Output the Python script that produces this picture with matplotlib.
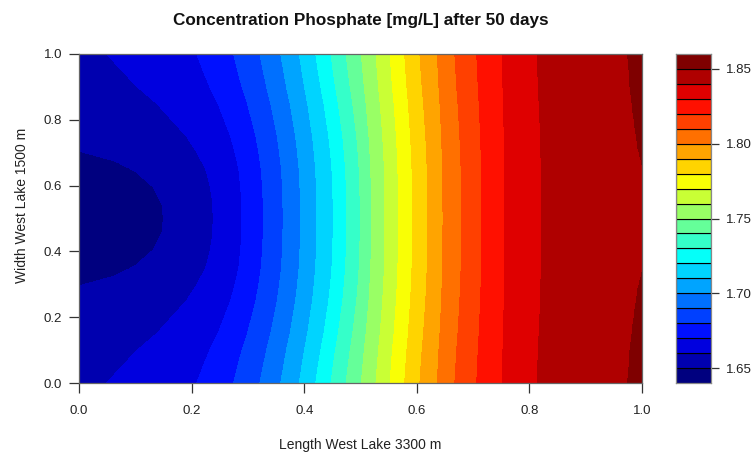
import numpy as np
import matplotlib
matplotlib.use("Agg")
import matplotlib.pyplot as plt
from matplotlib.colors import LinearSegmentedColormap

plt.rcParams["font.family"] = ["Liberation Sans", "DejaVu Sans"]

# Band edges of the phosphate concentration [mg/L]
levels = np.round(np.arange(1.64, 1.8601, 0.01), 2)
key_ticks = [1.65, 1.70, 1.75, 1.80, 1.85]
axis_ticks = [0.0, 0.2, 0.4, 0.6, 0.8, 1.0]

# Boundaries 1.66 ... 1.84: x position (fraction of lake length)
# along the centre line (y = 0.5) and along the shores (y = 0 / 1)
band_levels = [1.66, 1.67, 1.68, 1.69, 1.70, 1.71, 1.72, 1.73, 1.74, 1.75,
               1.76, 1.77, 1.78, 1.79, 1.80, 1.81, 1.82, 1.83, 1.84]
x_centre = [0.239, 0.290, 0.328, 0.363, 0.394, 0.423, 0.452, 0.476, 0.500, 0.520,
            0.544, 0.568, 0.593, 0.620, 0.647, 0.680, 0.716, 0.757, 0.822]
x_shore = [0.050, 0.210, 0.275, 0.322, 0.359, 0.392, 0.421, 0.448, 0.475, 0.502,
           0.528, 0.553, 0.579, 0.606, 0.637, 0.668, 0.707, 0.752, 0.814]

# Share of the shore-to-centre shift reached at each width position (upper half)
bend_y = [0.50, 0.55, 0.60, 0.65, 0.70, 0.75, 0.80, 0.85, 0.90, 0.95, 1.00]
bend_frac = [1.00, 0.995, 0.97, 0.93, 0.85, 0.75, 0.61, 0.47, 0.29, 0.14, 0.00]

# Inner 1.65 boundary near the inlet (upper half, mirrored below)
core_y = [0.500, 0.544, 0.595, 0.645, 0.676, 0.706]
core_x = [0.151, 0.148, 0.133, 0.100, 0.064, 0.000]

# 1.85 boundary at the outlet end (upper half, mirrored below)
rim_y = [0.666, 0.716, 0.800, 0.900, 1.000]
rim_x = [1.000, 0.993, 0.986, 0.979, 0.975]

# Jet-style palette used for the bands
palette = ["#00007F", "#0000FF", "#007FFF", "#00FFFF", "#7FFF7F",
           "#FFFF00", "#FF7F00", "#FF0000", "#7F0000"]

# ---- build the concentration grid from the boundary positions ----
xs = np.linspace(0, 1, 900)
ys = np.linspace(0, 1, 600)
bl = np.array(band_levels)
xc = np.array(x_centre)
xsh = np.array(x_shore)
Z = np.empty((ys.size, xs.size))
for j, y in enumerate(ys):
    d = abs(y - 0.5) + 0.5
    s = np.interp(d, bend_y, bend_frac)
    xb = xsh + (xc - xsh) * s
    x_in = np.interp(d, core_y, core_x) if d <= core_y[-1] else -0.05
    x_out = np.interp(d, rim_y, rim_x) if d >= rim_y[0] else 1.05
    px = np.concatenate([[-1.0, x_in], xb, [x_out, 2.0]])
    pz = np.concatenate([[levels[0], 1.65], bl, [1.85, levels[-1]]])
    Z[j] = np.interp(xs, px, pz)

cmap = LinearSegmentedColormap.from_list("jet_like", palette)
band_colors = [cmap(v) for v in np.linspace(0, 1, len(levels) - 1)]

W, H = 756, 457
fig = plt.figure(figsize=(W / 100, H / 100), dpi=100)

def frame(x0, y0, x1, y1):
    return [x0 / W, 1 - y1 / H, (x1 - x0) / W, (y1 - y0) / H]

ax = fig.add_axes(frame(79, 54, 642, 383))
cs = ax.contourf(xs, ys, Z, levels=levels, colors=band_colors)
cs.set_edgecolor("face")
cs.set_linewidth(0.4)
ax.set_xlim(0, 1)
ax.set_ylim(0, 1)
ax.set_xticks(axis_ticks)
ax.set_yticks(axis_ticks)
ax.set_xticklabels([f"{t:.1f}" for t in axis_ticks])
ax.set_yticklabels([f"{t:.1f}" for t in axis_ticks])
ax.tick_params(direction="out", length=7, width=0.9, color="#333333",
               labelsize=9.5, labelcolor="#222222")
ax.tick_params(axis="x", pad=9)
ax.tick_params(axis="y", pad=5)
for sp in ax.spines.values():
    sp.set_color("#666666")
    sp.set_linewidth(0.9)

# Colour key
cax = fig.add_axes(frame(676, 54, 711, 383))
cax.bar(0.5, np.diff(levels), bottom=levels[:-1], width=1.0,
        color=band_colors, edgecolor="black", linewidth=0.8)
cax.set_xlim(0, 1)
cax.set_ylim(levels[0], levels[-1])
cax.set_xticks([])
cax.yaxis.tick_right()
cax.set_yticks(key_ticks)
cax.set_yticklabels([f"{t:.2f}" for t in key_ticks])
cax.tick_params(axis="y", direction="out", length=6, width=0.9, color="#333333",
                labelsize=9.5, labelcolor="#222222", pad=5)
for sp in cax.spines.values():
    sp.set_color("#888888")
    sp.set_linewidth(0.9)

fig.text(361 / W, 1 - 20 / H, "Concentration Phosphate [mg/L] after 50 days",
         ha="center", va="center", fontsize=12.3, fontweight="bold", color="#111111")
fig.text(360 / W, 1 - 445 / H, "Length West Lake 3300 m",
         ha="center", va="center", fontsize=10, color="#222222")
fig.text(22 / W, 1 - 205 / H, "Width West Lake 1500 m", rotation=90,
         ha="center", va="center", fontsize=10, color="#222222")

fig.savefig("out.png", dpi=100)
